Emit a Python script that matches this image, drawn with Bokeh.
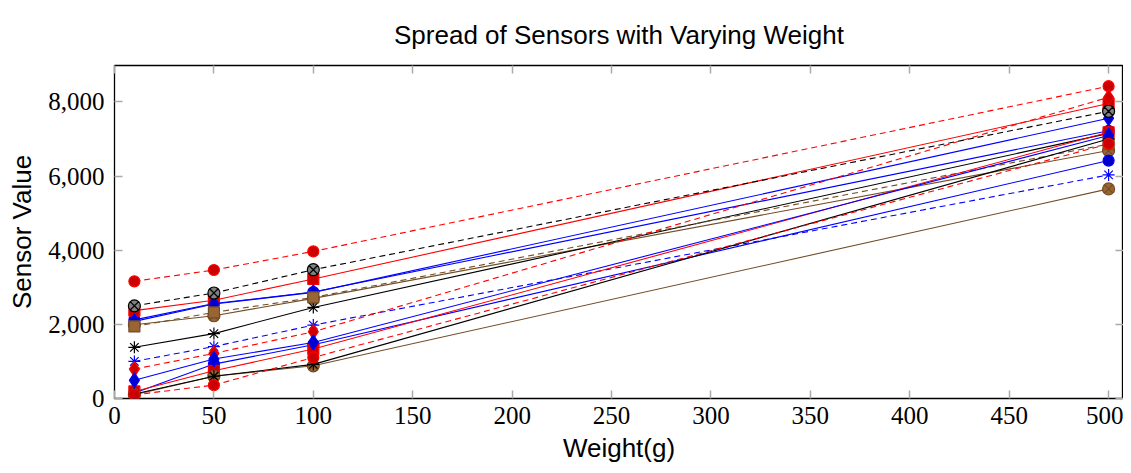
from bokeh.plotting import figure
from bokeh.models import LinearAxis, Range1d, NumeralTickFormatter, FixedTicker
from bokeh.embed import file_html
from bokeh.resources import INLINE

weights = [10, 50, 100, 500]

sensor_01 = [2120, 2560, 2870, 7220]
sensor_02 = [2370, 2650, 3222, 7954]
sensor_03 = [1990, 2232, 2700, 6686]
sensor_04 = [1380, 1750, 2456, 7150]
sensor_05 = [2080, 2548, 2861, 7557]
sensor_06 = [3160, 3465, 3967, 8422]
sensor_07 = [1943, 2321, 2726, 6860]
sensor_08 = [2500, 2845, 3473, 7746]
sensor_09 = [1000, 1400, 1980, 6030]
sensor_10 = [793, 1215, 1800, 8124]
sensor_11 = [150, 928, 1450, 6416]
sensor_12 = [190, 748, 1333, 7180]
sensor_13 = [100, 600, 882, 5652]
sensor_14 = [120, 600, 920, 7000]
sensor_15 = [490, 1063, 1512, 7090]
sensor_16 = [100, 360, 1107, 6866]

x_ticks = [0, 50, 100, 150, 200, 250, 300, 350, 400, 450, 500]
y_ticks = [0, 2000, 4000, 6000, 8000]

BLUE, BLUE_F = "#0000ff", "#0000cc"
RED, RED_F = "#ff0000", "#cc0000"
BROWN, BROWN_F = "#734d26", "#996633"
BLACK, GRAY = "#000000", "#808080"
DASH = "6 4"

styles = [
    (BLUE, BLUE_F, "circle", "solid", 11),
    (RED, RED_F, "square", "solid", 11),
    (BROWN, BROWN_F, "circle_x", "solid", 12),
    (BLACK, None, "asterisk", "solid", 12),
    (BLUE, BLUE_F, "diamond", "solid", 15),
    (RED, RED_F, "circle", DASH, 11),
    (BROWN, BROWN_F, "square", DASH, 11),
    (BLACK, GRAY, "circle_x", DASH, 12),
    (BLUE, None, "asterisk", DASH, 12),
    (RED, RED_F, "diamond", DASH, 15),
]

series = [sensor_01, sensor_02, sensor_03, sensor_04, sensor_05, sensor_06,
          sensor_07, sensor_08, sensor_09, sensor_10, sensor_11, sensor_12,
          sensor_13, sensor_14, sensor_15, sensor_16]

p = figure(width=1123, height=465, output_backend="svg", toolbar_location=None,
           x_range=Range1d(0, 507.5), y_range=Range1d(0, 8980),
           min_border_left=114, min_border_right=0, min_border_top=65, min_border_bottom=67)

p.title.text = "Spread of Sensors with Varying Weight"
p.title.align = "center"
p.title.text_font = "Liberation Sans"
p.title.text_font_size = "26px"
p.title.text_font_style = "normal"
p.title.text_color = "black"
p.title.offset = 0
p.title.standoff = 32

p.grid.visible = False
p.outline_line_color = "black"
p.outline_line_width = 1.3
p.background_fill_color = "white"
p.border_fill_color = "white"

for ax in (p.xaxis[0], p.yaxis[0]):
    ax.axis_line_color = None
    ax.major_tick_in = 8
    ax.major_tick_out = 0
    ax.minor_tick_line_color = None
    ax.major_tick_line_color = "#aaaaaa"
    ax.major_tick_line_width = 1.5
    ax.major_label_text_font = "Liberation Serif"
    ax.major_label_text_font_size = "25px"
    ax.major_label_text_color = "black"
    ax.axis_label_text_font = "Liberation Sans"
    ax.axis_label_text_font_size = "26px"
    ax.axis_label_text_font_style = "normal"
    ax.axis_label_text_color = "black"
    ax.formatter = NumeralTickFormatter(format="0,0")

p.xaxis[0].ticker = FixedTicker(ticks=x_ticks)
p.yaxis[0].ticker = FixedTicker(ticks=y_ticks)
p.xaxis[0].axis_label = "Weight(g)"
p.yaxis[0].axis_label = "Sensor Value"
p.xaxis[0].major_label_standoff = 8
p.yaxis[0].major_label_standoff = 10
p.xaxis[0].axis_label_standoff = 6
p.yaxis[0].axis_label_standoff = 8

for loc, tk in (("above", x_ticks), ("right", y_ticks)):
    a = LinearAxis(ticker=FixedTicker(ticks=tk))
    a.axis_line_color = None
    a.major_tick_in = 8
    a.major_tick_out = 0
    a.minor_tick_line_color = None
    a.major_tick_line_color = "#aaaaaa"
    a.major_tick_line_width = 1.5
    a.major_label_overrides = {t: "" for t in tk}
    a.major_label_standoff = 0
    p.add_layout(a, loc)

for i, vals in enumerate(series):
    col, fill, mk, dash, sz = styles[i % 10]
    p.line(weights, vals, line_color=col, line_width=1.1, line_dash=dash)
    p.scatter(weights, vals, marker=mk, size=sz,
              fill_color=fill if fill else col, line_color=col, line_width=1.2)

open("out.html", "w").write(file_html(p, INLINE))
